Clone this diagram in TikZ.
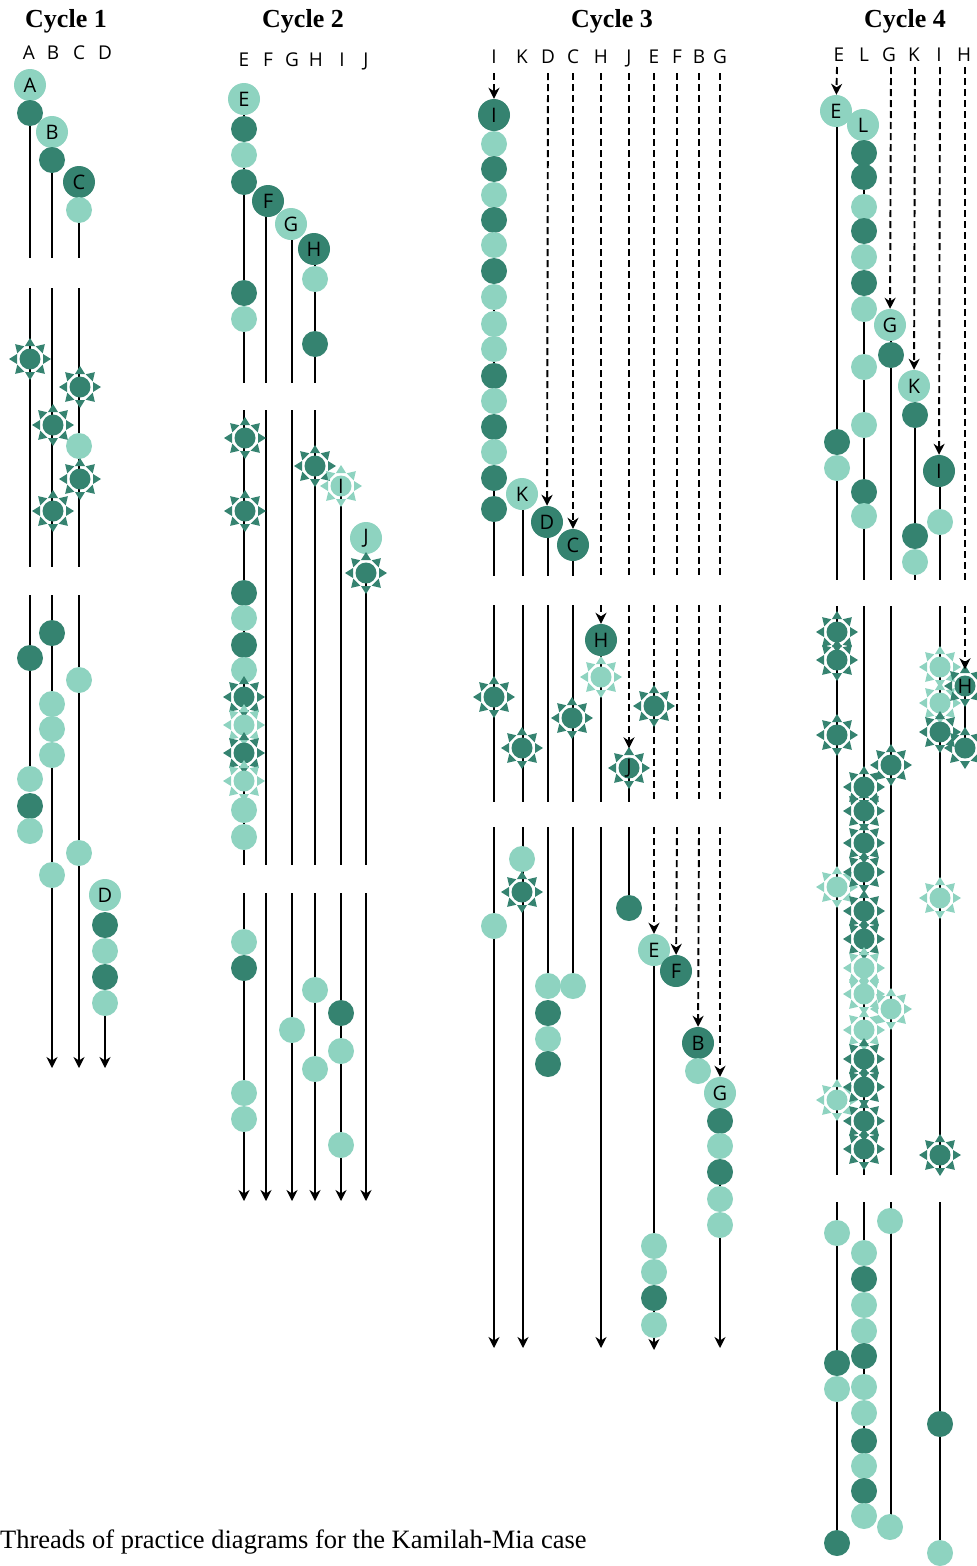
\documentclass[tikz,border=0pt]{standalone}
\usepackage{fontspec}
\setmainfont{Liberation Serif}
\newfontfamily\lab{Open Sans}
\usetikzlibrary{arrows.meta}
\definecolor{cdk}{HTML}{358370}
\definecolor{clt}{HTML}{8ED3C0}
\tikzset{
 ln/.style={line width=2.2pt,black},
 ar/.style={-{Stealth[length=11pt,width=11pt,inset=3.5pt]}},
 dsh/.style={line width=1.9pt,dash pattern=on 7pt off 4pt},
 cbase/.style={circle,inner sep=0pt,minimum size=26pt,font=\lab\fontsize{20}{22}\selectfont},
 sdk/.style={cbase,fill=cdk},
 slt/.style={cbase,fill=clt},
 sdkL/.style={cbase,fill=cdk,minimum size=32pt},
 sltL/.style={cbase,fill=clt,minimum size=32pt},
 bc/.style={cbase,minimum size=21pt},
 hdr/.style={anchor=base,inner sep=0pt,font=\lab\fontsize{19}{22}\selectfont},
 ttl/.style={anchor=base,inner sep=0pt,font=\bfseries\fontsize{26}{30}\selectfont},
}
\newcommand\vl[5][]{\draw[ln,#1] (#3,#4) coordinate (#2s) -- (#3,#5) coordinate (#2e);}
\newcommand\bst[5]{%
 \foreach \a in {0,45,...,315}{\fill[#4,shift={(#2,#3)},rotate=\a] (13,-5) -- (21,0) -- (13,5) -- cycle;}%
 \node[bc,fill=#4] (#1) at (#2,#3) {#5};}
\begin{document}
\begin{tikzpicture}[x=1pt,y=-1pt]
\useasboundingbox (0,0) rectangle (977,1566);
% ================= Cycle 1 =================
\node[ttl] (t1) at (66,27) {Cycle 1};
\foreach \x/\t in {29/A,53/B,79/C,105/D} \node[hdr] (h1\t) at (\x,59) {\t};
\vl{l1a1}{30}{113}{258}
\vl{l1b1}{52}{160}{258}
\vl{l1c1}{79}{210}{258}
\vl{l1a2}{30}{288}{567}
\vl{l1b2}{52}{288}{567}
\vl{l1c2}{79}{288}{567}
\vl{l1a3}{30}{595}{779}
\vl[ar]{l1b3}{52}{595}{1068}
\vl[ar]{l1c3}{79}{595}{1068}
\vl[ar]{l1d3}{105}{1003}{1068}
\node[sltL] (c1A) at (30,85) {A};
\node[sdk] (c1a1) at (30,113) {};
\node[sltL] (c1B) at (52,132) {B};
\node[sdk] (c1b1) at (52,160) {};
\node[sdkL] (c1C) at (79,182) {C};
\node[slt] (c1c1) at (79,210) {};
\bst{b1a1}{30}{359}{cdk}{}
\bst{b1c1}{80}{387}{cdk}{}
\bst{b1b1}{53}{425}{cdk}{}
\node[slt] (c1c2) at (79,446) {};
\bst{b1c2}{80}{479}{cdk}{}
\bst{b1b2}{53}{511}{cdk}{}
\node[sdk] (c1b2) at (52,633) {};
\node[sdk] (c1a2) at (30,658) {};
\node[slt] (c1c3) at (79,680) {};
\foreach \y [count=\i] in {704,729,755} \node[slt] (c1bb\i) at (52,\y) {};
\node[slt] (c1a3) at (30,779) {};
\node[sdk] (c1a4) at (30,806) {};
\node[slt] (c1a5) at (30,831) {};
\node[slt] (c1c4) at (79,853) {};
\node[slt] (c1b3) at (52,875) {};
\node[sltL] (c1D) at (105,895) {D};
\foreach \y/\s [count=\i] in {925/sdk,951/slt,977/sdk,1003/slt} \node[\s] (c1d\i) at (105,\y) {};
% ================= Cycle 2 =================
\node[ttl] (t2) at (303,27) {Cycle 2};
\foreach \x/\t in {244/E,268/F,292/G,316/H,342/I,366/J} \node[hdr] (h2\t) at (\x,66) {\t};
\vl{l2e1}{244}{99}{383}
\vl{l2f1}{266}{201}{383}
\vl{l2g1}{292}{224}{383}
\vl{l2h1}{315}{249}{383}
\vl{l2e2}{244}{410}{865}
\vl{l2f2}{266}{410}{865}
\vl{l2g2}{292}{410}{865}
\vl{l2h2}{315}{410}{865}
\vl{l2i2}{341}{486}{865}
\vl{l2j2}{366}{573}{865}
\foreach \x/\t in {244/e,266/f,292/g,315/h,341/i,366/j} {\vl[ar]{l2\t3}{\x}{893}{1201}}
\node[sltL] (c2E) at (244,99) {E};
\node[sdk] (c2e1) at (244,129) {};
\node[slt] (c2e2) at (244,155) {};
\node[sdk] (c2e3) at (244,182) {};
\node[sdkL] (c2F) at (268,201) {F};
\node[sltL] (c2G) at (291,224) {G};
\node[sdkL] (c2H) at (314,249) {H};
\node[slt] (c2h1) at (315,279) {};
\node[sdk] (c2e4) at (244,293) {};
\node[slt] (c2e5) at (244,319) {};
\node[sdk] (c2h2) at (315,344) {};
\bst{b2e1}{245}{438}{cdk}{}
\bst{b2h1}{315}{466}{cdk}{}
\bst{b2I}{341}{486}{clt}{I}
\bst{b2e2}{245}{511}{cdk}{}
\node[sltL] (c2J) at (366,538) {J};
\bst{b2j1}{366}{573}{cdk}{}
\foreach \y/\s [count=\i] in {593/sdk,618/slt,645/sdk,670/slt} \node[\s] (c2ee\i) at (244,\y) {};
\bst{b2e3}{244}{697}{cdk}{}
\bst{b2e4}{244}{725}{clt}{}
\bst{b2e5}{244}{753}{cdk}{}
\bst{b2e6}{244}{781}{clt}{}
\node[slt] (c2e6) at (244,810) {};
\node[slt] (c2e7) at (244,837) {};
\foreach \y/\s [count=\i] in {942/slt,968/sdk,1093/slt,1119/slt} \node[\s] (c2ef\i) at (244,\y) {};
\node[slt] (c2h3) at (315,990) {};
\node[slt] (c2h4) at (315,1069) {};
\node[slt] (c2g1) at (292,1030) {};
\node[sdk] (c2i1) at (341,1013) {};
\node[slt] (c2i2) at (341,1051) {};
\node[slt] (c2i3) at (341,1145) {};
% ================= Cycle 3 =================
\node[ttl] (t3) at (612,27) {Cycle 3};
\foreach \x/\t in {494/I,522/K,548/D,573/C,601/H,629/J,654/E,677/F,699/B,720/G} \node[hdr] (h3\t) at (\x,63) {\t};
% segment 1
\vl{l3i1}{494}{115}{576}
\vl{l3k1}{523}{494}{576}
\vl{l3d1}{548}{522}{576}
\vl{l3c1}{573}{545}{576}
\foreach \x/\t in {601/h,629/j,654/e,677/f,699/b,720/g} {\draw[dsh] (\x,73) coordinate (d3\t1s) -- (\x,576) coordinate (d3\t1e);}
\node[sdkL] (c3I) at (494,115) {I};
\foreach \y/\s [count=\i] in {144/slt,169/sdk,195/slt,220/sdk,245/slt,271/sdk,297/slt,324/slt,349/slt,376/sdk,401/slt,427/sdk,452/slt,478/sdk,509/sdk} \node[\s] (c3i\i) at (494,\y) {};
\node[sltL] (c3K) at (522,494) {K};
\node[sdkL] (c3D) at (547,522) {D};
\node[sdkL] (c3C) at (573,545) {C};
\draw[dsh,ar] (494,73) coordinate (d3i0) -- (c3I);
\draw[dsh,ar] (548,73) coordinate (d3d0) -- (c3D);
\draw[dsh,ar] (573,73) coordinate (d3c0) -- (c3C);
% segment 2
\foreach \x/\t in {494/i,523/k,548/d,573/c} {\vl{l3\t2}{\x}{605}{802}}
\vl{l3h2}{601}{640}{802}
\vl{l3j2}{629}{768}{802}
\foreach \x/\t in {654/e,677/f,699/b,720/g} {\draw[dsh] (\x,605) coordinate (d3\t2s) -- (\x,802) coordinate (d3\t2e);}
\node[sdkL] (c3H) at (601,640) {H};
\bst{b3h1}{601}{677}{clt}{}
\bst{b3i1}{494}{697}{cdk}{}
\bst{b3e1}{654}{706}{cdk}{}
\bst{b3c1}{572}{718}{cdk}{}
\bst{b3k1}{522}{748}{cdk}{}
\bst{b3J}{629}{768}{cdk}{J}
\draw[dsh,ar] (601,605) coordinate (d3h0) -- (c3H);
\draw[dsh,ar] (629,605) coordinate (d3j0) -- ([yshift=9pt]b3J.north);
% segment 3
\vl[ar]{l3i3}{494}{827}{1348}
\vl[ar]{l3k3}{523}{827}{1348}
\vl{l3d3}{548}{827}{986}
\vl{l3c3}{573}{827}{986}
\vl[ar]{l3h3}{601}{827}{1348}
\vl{l3j3}{629}{827}{908}
\vl[ar]{l3e3}{654}{950}{1350}
\vl[ar]{l3g3}{720}{1093}{1348}
\node[slt] (c3k1) at (522,859) {};
\bst{b3k2}{522}{892}{cdk}{}
\node[slt] (c3i16) at (494,926) {};
\node[sdk] (c3j1) at (629,908) {};
\foreach \y/\s [count=\i] in {986/slt,1013/sdk,1039/slt,1064/sdk} \node[\s] (c3d\i) at (548,\y) {};
\node[slt] (c3c1) at (573,986) {};
\node[sltL] (c3E) at (654,950) {E};
\node[sdkL] (c3F) at (676,971) {F};
\node[sdkL] (c3B) at (698,1043) {B};
\node[slt] (c3b1) at (698,1071) {};
\node[sltL] (c3G) at (720,1093) {G};
\foreach \y/\s [count=\i] in {1121/sdk,1146/slt,1172/sdk,1199/slt,1225/slt} \node[\s] (c3g\i) at (720,\y) {};
\foreach \y/\s [count=\i] in {1246/slt,1272/slt,1298/sdk,1325/slt} \node[\s] (c3e\i) at (654,\y) {};
\draw[dsh,ar] (654,827) coordinate (d3e3) -- (c3E);
\draw[dsh,ar] (677,827) coordinate (d3f3) -- (c3F);
\draw[dsh,ar] (699,827) coordinate (d3b3) -- (c3B);
\draw[dsh,ar] (720,827) coordinate (d3g3) -- (c3G);
% ================= Cycle 4 =================
\node[ttl] (t4) at (905,27) {Cycle 4};
\foreach \x/\t in {839/E,864/L,889/G,914/K,939/I,964/H} \node[hdr] (h4\t) at (\x,61) {\t};
% segment 1
\vl{l4e1}{837}{111}{580}
\vl{l4l1}{864}{125}{580}
\vl{l4g1}{891}{325}{580}
\vl{l4k1}{915}{386}{580}
\vl{l4i1}{940}{471}{580}
\draw[dsh] (965,67) coordinate (d4h1s) -- (965,580) coordinate (d4h1e);
\node[sltL] (c4E) at (836,111) {E};
\node[sltL] (c4L) at (863,125) {L};
\foreach \y/\s [count=\i] in {153/sdk,177/sdk,207/slt,231/sdk,257/slt,283/sdk,309/slt,367/slt,425/slt,492/sdk,516/slt} \node[\s] (c4l\i) at (864,\y) {};
\node[sdk] (c4e1) at (837,442) {};
\node[slt] (c4e2) at (837,468) {};
\node[sltL] (c4G) at (890,325) {G};
\node[sdk] (c4g1) at (891,355) {};
\node[sltL] (c4K) at (914,386) {K};
\node[sdk] (c4k1) at (915,415) {};
\node[sdk] (c4k2) at (915,536) {};
\node[slt] (c4k3) at (915,562) {};
\node[sdkL] (c4I) at (939,471) {I};
\node[slt] (c4i1) at (940,522) {};
\draw[dsh,ar] (837,67) coordinate (d4e0) -- (c4E);
\draw[dsh,ar] (891,67) coordinate (d4g0) -- (c4G);
\draw[dsh,ar] (915,67) coordinate (d4k0) -- (c4K);
\draw[dsh,ar] (940,67) coordinate (d4i0) -- (c4I);
% segment 2
\foreach \x/\t in {837/e,864/l,891/g,940/i} {\vl{l4\t2}{\x}{606}{1175}}
\vl{l4h2}{965}{686}{748}
\foreach \y/\c [count=\i] in {632/cdk,660/cdk,735/cdk,887/clt,1100/clt} {\bst{b4e\i}{837}{\y}{\c}{}}
\foreach \y/\c [count=\i] in {765/cdk,1009/clt} {\bst{b4g\i}{891}{\y}{\c}{}}
\foreach \y/\c [count=\i] in {667/clt,703/clt,732/cdk,898/clt,1155/cdk} {\bst{b4i\i}{940}{\y}{\c}{}}
\foreach \y/\c [count=\i] in {787/cdk,811/cdk,843/cdk,872/cdk,911/cdk,939/cdk,968/clt,994/clt,1030/clt,1059/cdk,1087/cdk,1121/cdk,1149/cdk} {\bst{b4l\i}{864}{\y}{\c}{}}
\bst{b4h2}{965}{748}{cdk}{}
\bst{b4H}{965}{686}{cdk}{H}
\draw[dsh,ar] (965,606) coordinate (d4h0) -- ([yshift=6pt]b4H.north);
% segment 3
\vl{l4e3}{837}{1202}{1543}
\vl{l4l3}{864}{1202}{1516}
\vl{l4g3}{891}{1202}{1527}
\vl{l4i3}{940}{1202}{1553}
\foreach \y/\s [count=\i] in {1233/slt,1363/sdk,1389/slt,1543/sdk} \node[\s] (c4ee\i) at (837,\y) {};
\foreach \y/\s [count=\i] in {1253/slt,1279/sdk,1305/slt,1331/slt,1356/sdk,1387/slt,1413/slt,1441/sdk,1466/slt,1491/sdk,1516/slt} \node[\s] (c4ll\i) at (864,\y) {};
\node[slt] (c4g2) at (890,1221) {};
\node[slt] (c4g3) at (890,1527) {};
\node[sdk] (c4i2) at (940,1424) {};
\node[slt] (c4i3) at (940,1553) {};
% caption
\node[anchor=base west,inner sep=0pt,font=\fontsize{26.5}{30}\selectfont] (cap) at (0,1548) {Threads of practice diagrams for the Kamilah-Mia case};
\end{tikzpicture}
\end{document}
